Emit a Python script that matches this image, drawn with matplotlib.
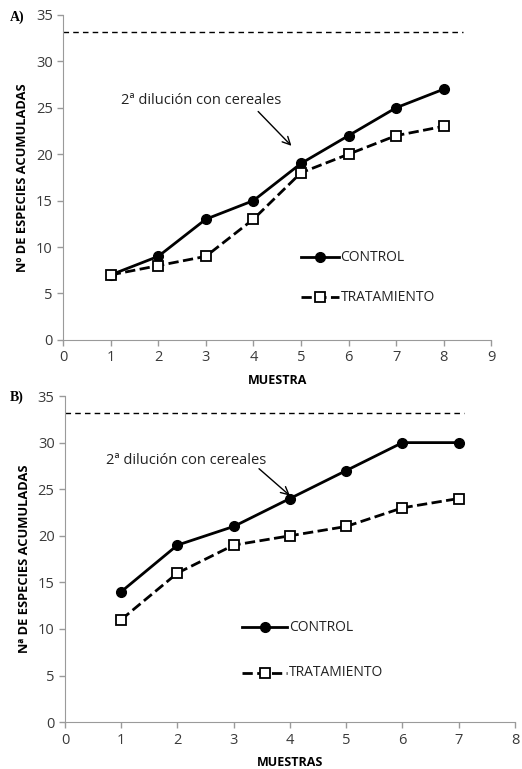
import numpy as np
import matplotlib
matplotlib.use("Agg")
import matplotlib.pyplot as plt

plt.rcParams['font.family'] = ['Open Sans', 'DejaVu Sans']

# Panel A data
muestras_a = [1, 2, 3, 4, 5, 6, 7, 8]
control_a = [7, 9, 13, 15, 19, 22, 25, 27]
tratamiento_a = [7, 8, 9, 13, 18, 20, 22, 23]

# Panel B data
muestras_b = [1, 2, 3, 4, 5, 6, 7]
control_b = [14, 19, 21, 24, 27, 30, 30]
tratamiento_b = [11, 16, 19, 20, 21, 23, 24]

# reference (dashed) level
nivel_ref = 33.2


def draw_panel(ax, x, ctrl, trat, xmax, xlabel, ylabel, ref_end,
               txt_xy, arrow_from, arrow_to, leg_x, leg_y):
    ax.plot(x, ctrl, '-o', color='black', lw=2, ms=7, zorder=3)
    ax.plot(x, trat, '--s', color='black', lw=2, ms=7, mfc='white',
            mec='black', mew=1.3, zorder=3)
    ax.plot([0, ref_end], [nivel_ref, nivel_ref], '--', color='black',
            lw=1, dashes=(4, 3))

    ax.set_xlim(0, xmax)
    ax.set_ylim(0, 35)
    ax.set_xticks(range(0, xmax + 1))
    ax.set_yticks(range(0, 36, 5))
    for s in ['top', 'right']:
        ax.spines[s].set_visible(False)
    for s in ['left', 'bottom']:
        ax.spines[s].set_color('#9a9a9a')
    ax.tick_params(colors='#9a9a9a', labelcolor='#3a3a3a', labelsize=10.5,
                   length=4, width=1)
    ax.set_xlabel(xlabel, fontsize=9, fontweight='bold', labelpad=6)
    ax.set_ylabel(ylabel, fontsize=9.3, fontweight='bold', labelpad=5)

    ax.text(txt_xy[0], txt_xy[1], '2ª dilución con cereales',
            fontsize=10.5, ha='center', va='center', color='#222222')
    ax.annotate('', xy=arrow_to, xytext=arrow_from,
                arrowprops=dict(arrowstyle='->', color='black', lw=1,
                                shrinkA=0, shrinkB=0, mutation_scale=14))

    # hand-made legend as in the original
    d = 0.8
    ax.plot([leg_x, leg_x + d], [leg_y[0]] * 2, '-', color='black', lw=2)
    ax.plot([leg_x + d / 2], [leg_y[0]], 'o', color='black', ms=7)
    ax.text(leg_x + d + 0.03, leg_y[0], 'CONTROL', fontsize=10,
            va='center', color='#222222')
    ax.plot([leg_x, leg_x + d], [leg_y[1]] * 2, '--', color='black', lw=2)
    ax.plot([leg_x + d / 2], [leg_y[1]], 's', mfc='white', mec='black',
            mew=1.3, ms=7)
    ax.text(leg_x + d + 0.03, leg_y[1], 'TRATAMIENTO', fontsize=10,
            va='center', color='#222222')


fig = plt.figure(figsize=(5.22, 7.69), dpi=100)
ax1 = fig.add_axes([0.121, 0.558, 0.820, 0.4226])
ax2 = fig.add_axes([0.1245, 0.061, 0.862, 0.424])

draw_panel(ax1, muestras_a, control_a, tratamiento_a, 9, 'MUESTRA',
           'Nº DE ESPECIES ACUMULADAS', 8.4,
           (2.9, 25.8), (4.1, 24.6), (4.8, 20.9), 5.0, (8.9, 4.6))
draw_panel(ax2, muestras_b, control_b, tratamiento_b, 8, 'MUESTRAS',
           'Nª DE ESPECIES ACUMULADAS', 7.1,
           (2.15, 28.1), (3.45, 27.2), (4.0, 24.3), 3.15, (10.2, 5.3))

fig.text(0.018, 0.977, 'A)', fontsize=10, fontweight='bold',
         family='Liberation Serif', va='center')
fig.text(0.018, 0.483, 'B)', fontsize=10, fontweight='bold',
         family='Liberation Serif', va='center')

fig.savefig('out.png', dpi=100)
